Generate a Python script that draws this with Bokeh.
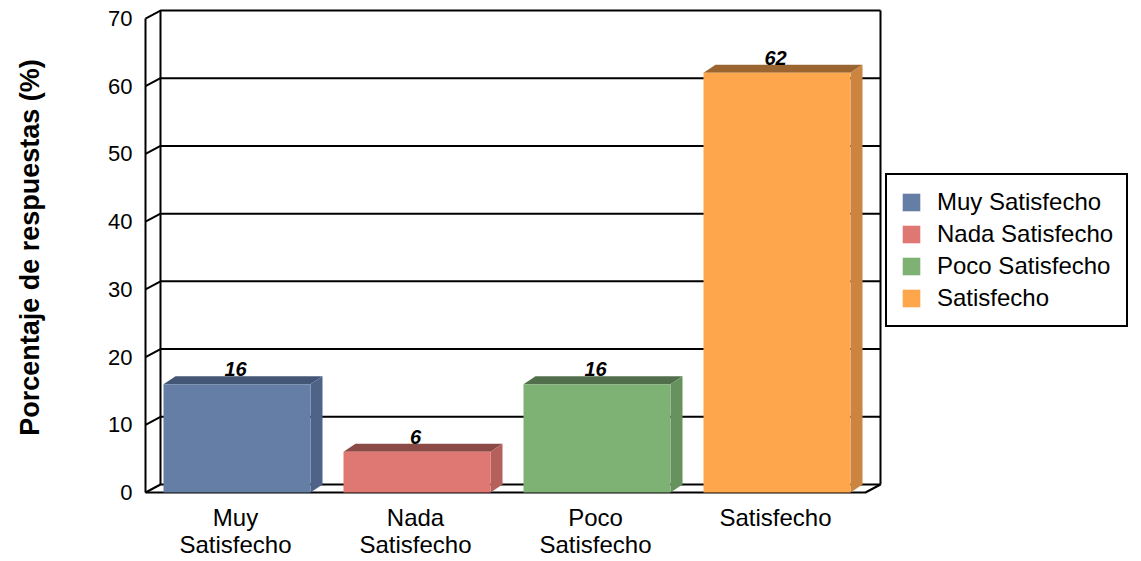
from bokeh.plotting import figure
from bokeh.models import Range1d, FixedTicker, Legend, LegendItem, ColumnDataSource
from bokeh.core.properties import value
from bokeh.embed import file_html
from bokeh.resources import INLINE

# ---- data ----
categories = ["Muy Satisfecho", "Nada Satisfecho", "Poco Satisfecho", "Satisfecho"]
tick_labels = ["Muy\nSatisfecho", "Nada\nSatisfecho", "Poco\nSatisfecho", "Satisfecho"]
values = [16, 6, 16, 62]
y_ticks = [0, 10, 20, 30, 40, 50, 60, 70]
y_title = "Porcentaje de respuestas (%)"
front_colors = ["#647EA6", "#DF7873", "#7EB174", "#FDA64B"]
top_colors = ["#435676", "#8C4A47", "#526F4B", "#9A6530"]
side_colors = ["#4E6387", "#B5605B", "#66925D", "#CB8540"]

FONT = "Liberation Sans"
PX_X = 180.0           # px per category
PX_Y = 6.771           # px per percent
DXW, DYW = 15 / PX_X, 8 / PX_Y   # wall depth
DXB, DYB = 12 / PX_X, 8 / PX_Y   # bar depth
BAR_L, BAR_W = 0.1, 147 / PX_X

W, H = 1141, 561
left_border, bottom_border = 143, 67
x0 = -2 / PX_X
y0 = -2 / PX_Y
x1 = x0 + (W - left_border) / PX_X
y1 = y0 + (H - bottom_border) / PX_Y

p = figure(width=W, height=H, output_backend="svg", toolbar_location=None,
           x_range=Range1d(x0, x1), y_range=Range1d(y0, y1),
           min_border_left=left_border, min_border_bottom=bottom_border,
           min_border_top=0, min_border_right=0)
p.xgrid.visible = False
p.ygrid.visible = False
p.outline_line_color = None
p.background_fill_color = "white"

n = len(categories)
ymax = y_ticks[-1]

# ---- walls / grid ----
gx, gy = [], []
for t in y_ticks:
    gx.append([0, DXW, n + DXW]); gy.append([t, t + DYW, t + DYW])
gx.append([0, 0]); gy.append([0, ymax])
gx.append([DXW, DXW]); gy.append([DYW, ymax + DYW])
gx.append([n + DXW, n + DXW]); gy.append([DYW, ymax + DYW])
gx.append([0, n, n + DXW]); gy.append([0, 0, DYW])
p.multi_line(gx, gy, line_color="black", line_width=2)

# ---- bars ----
lefts = [i + BAR_L for i in range(n)]
rights = [l + BAR_W for l in lefts]
src = ColumnDataSource(dict(left=lefts, right=rights, top=values,
                            bottom=[0] * n, color=front_colors, cat=categories))
top_xs = [[l, r, r + DXB, l + DXB] for l, r in zip(lefts, rights)]
top_ys = [[v, v, v + DYB, v + DYB] for v in values]
side_xs = [[r, r + DXB, r + DXB, r] for r in rights]
side_ys = [[0, DYB, v + DYB, v] for v in values]
p.patches(top_xs, top_ys, fill_color=top_colors, line_color=None)
p.patches(side_xs, side_ys, fill_color=side_colors, line_color=None)
fr = p.quad(left="left", right="right", top="top", bottom="bottom",
            fill_color="color", line_color=None, source=src)

# ---- value labels ----
p.text(x=[i + 0.5 for i in range(n)], y=[v + DYB for v in values],
       text=[str(v) for v in values], text_align="center",
       text_baseline="alphabetic", y_offset=-7, text_font=value(FONT),
       text_font_size="20px", text_font_style="bold italic", text_color="black")

# ---- axes ----
ya = p.yaxis[0]
ya.ticker = FixedTicker(ticks=y_ticks)
ya.axis_line_color = None
ya.major_tick_line_color = None
ya.minor_tick_line_color = None
ya.major_tick_out = 0
ya.major_tick_in = 0
ya.major_label_standoff = 11
ya.major_label_text_font = FONT
ya.major_label_text_font_size = "22px"
ya.major_label_text_color = "black"
ya.axis_label = y_title
ya.axis_label_text_font = FONT
ya.axis_label_text_font_size = "27px"
ya.axis_label_text_font_style = "bold"
ya.axis_label_text_color = "black"
ya.axis_label_standoff = 60

xa = p.xaxis[0]
xa.ticker = FixedTicker(ticks=[i + 0.5 for i in range(n)])
xa.major_label_overrides = {i + 0.5: lab for i, lab in enumerate(tick_labels)}
xa.axis_line_color = None
xa.major_tick_line_color = None
xa.minor_tick_line_color = None
xa.major_tick_out = 0
xa.major_tick_in = 0
xa.major_label_standoff = 9
xa.major_label_text_font = FONT
xa.major_label_text_font_size = "24px"
xa.major_label_text_color = "black"
xa.major_label_text_line_height = 1.0

# ---- legend ----
legend = Legend(items=[LegendItem(label=c, renderers=[fr], index=i) for i, c in enumerate(categories)],
                location=(742, 167), glyph_width=22, glyph_height=22, label_height=22,
                spacing=4, padding=13, label_standoff=15, margin=0,
                label_text_font=FONT, label_text_font_size="24px", label_text_color="black",
                border_line_color="black", border_line_width=2, border_line_alpha=1,
                background_fill_color="white", background_fill_alpha=1)
p.add_layout(legend)

open("out.html", "w").write(file_html(p, INLINE))
